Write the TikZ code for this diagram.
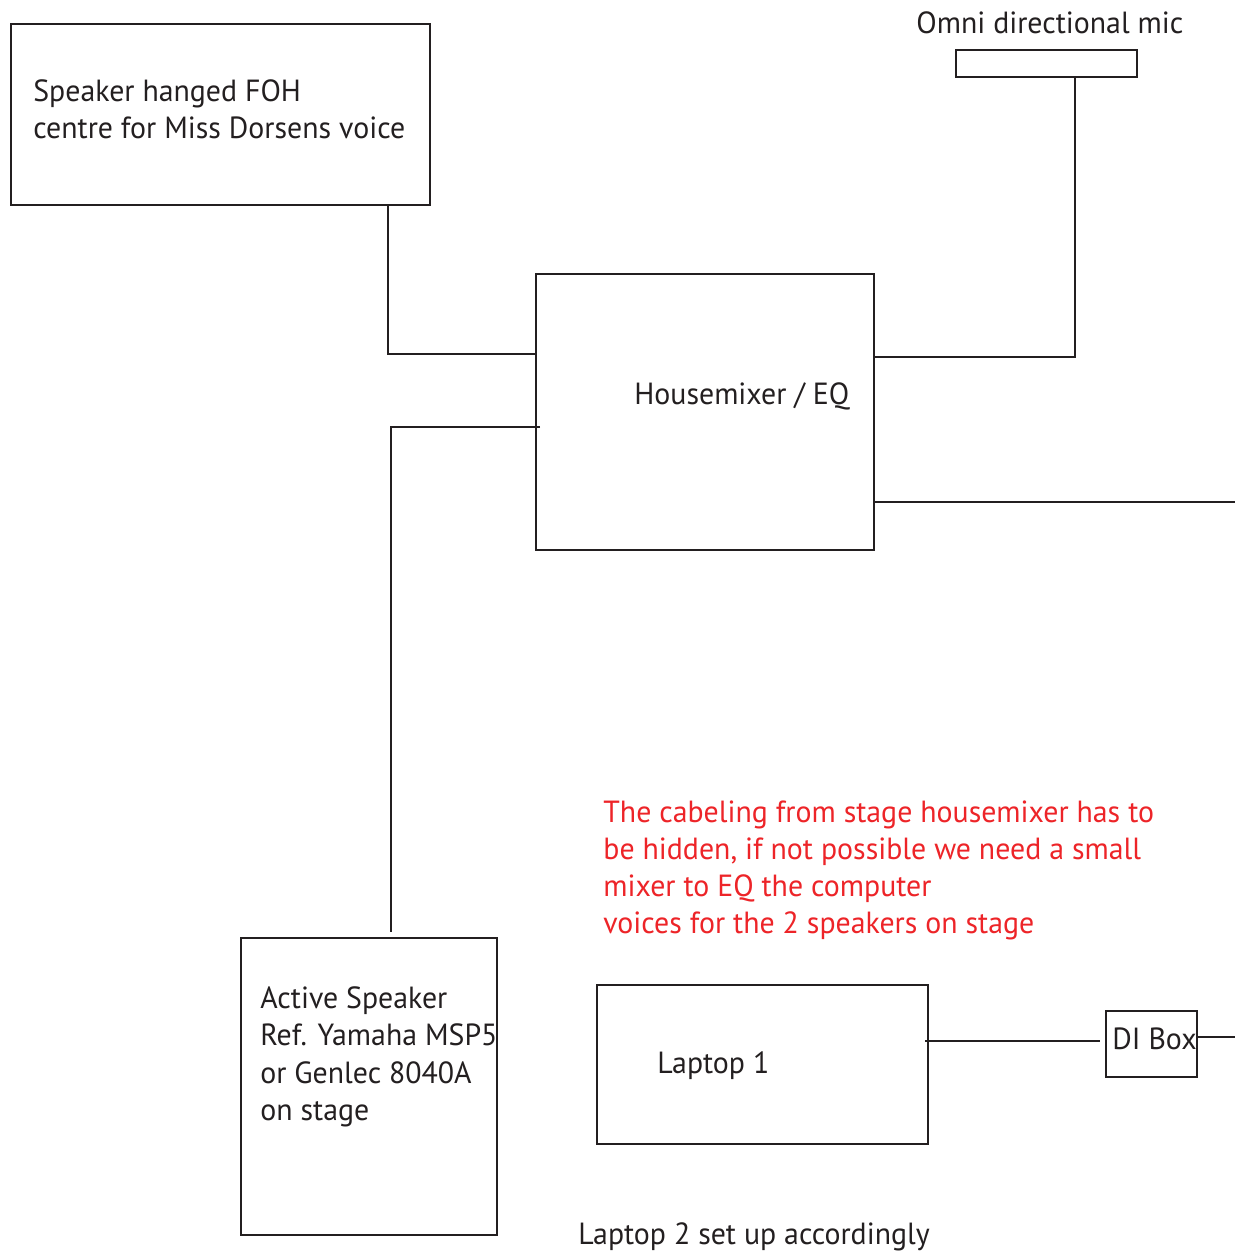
\documentclass[tikz,border=0pt]{standalone}
\usepackage{fontspec}
\setmainfont[FakeStretch=0.975]{PT Sans}
\definecolor{ink}{RGB}{35,31,32}
\definecolor{note}{RGB}{237,36,40}
\begin{document}
\begin{tikzpicture}[x=0.5pt,y=-0.5pt,
  wire/.style={draw=ink,line width=1.4pt},
  boxshape/.style={draw=ink,line width=1.4pt,rectangle,inner sep=0pt,outer sep=0pt,anchor=north west},
  lbl/.style={anchor=base west,inner sep=0pt,text=ink,font=\fontsize{15.3}{18.5}\selectfont},
  redlbl/.style={anchor=base west,inner sep=0pt,text=note,font=\fontsize{15.3}{18.5}\selectfont}]
\useasboundingbox (0,0) rectangle (1235,1251);
% boxes
\node[boxshape,minimum width=209.5pt,minimum height=90.5pt] (foh) at (11,24) {};
\node[boxshape,minimum width=90.5pt,minimum height=13.5pt] (mic) at (956,50) {};
\node[boxshape,minimum width=169pt,minimum height=138pt] (mixer) at (536,274) {};
\node[boxshape,minimum width=128pt,minimum height=148.5pt] (active) at (241,938) {};
\node[boxshape,minimum width=165.5pt,minimum height=79.5pt] (laptop) at (597,985) {};
\node[boxshape,minimum width=45.5pt,minimum height=33pt] (di) at (1106,1011) {};
% texts
\node[lbl] (fohA) at (33,102) {Speaker hanged FOH};
\node[lbl] (fohB) at (33,139) {centre for Miss Dorsens voice};
\node[lbl] (micT) at (916,34) {Omni directional mic};
\node[lbl] (mixT) at (634,404) {Housemixer / EQ};
\node[redlbl] (r1) at (603,822) {The cabeling from stage housemixer has to};
\node[redlbl] (r2) at (603,859) {be hidden, if not possible we need a small};
\node[redlbl] (r3) at (603,896) {mixer to EQ the computer};
\node[redlbl] (r4) at (603,933) {voices for the 2 speakers on stage};
\node[lbl] (a1) at (260,1008) {Active Speaker};
\node[lbl] (a2) at (260,1045) {Ref. Yamaha MSP5};
\node[lbl] (a3) at (260,1083) {or Genlec 8040A};
\node[lbl] (a4) at (260,1120) {on stage};
\node[lbl] (lapT) at (657,1073) {Laptop 1};
\node[lbl] (diT) at (1112,1049) {DI Box};
\node[lbl] (lap2) at (578,1244) {Laptop 2 set up accordingly};
% connection points
\coordinate (fohOut) at (388,205);
\coordinate (mixInA) at (536,354);
\coordinate (mixOutB) at (540,427);
\coordinate (actIn) at (391,932);
\coordinate (micOut) at (1075,77);
\coordinate (mixInC) at (874,357);
\coordinate (mixOutD) at (874,502);
\coordinate (edgeD) at (1235,502);
\coordinate (lapOut) at (925,1041);
\coordinate (diIn) at (1100,1041);
\coordinate (diOut) at (1197,1037);
\coordinate (edgeE) at (1235,1037);
% connectors
\draw[wire] (fohOut) |- (mixInA);
\draw[wire] (mixOutB) -| (actIn);
\draw[wire] (micOut) |- (mixInC);
\draw[wire] (mixOutD) -- (edgeD);
\draw[wire] (lapOut) -- (diIn);
\draw[wire] (diOut) -- (edgeE);
\end{tikzpicture}
\end{document}
